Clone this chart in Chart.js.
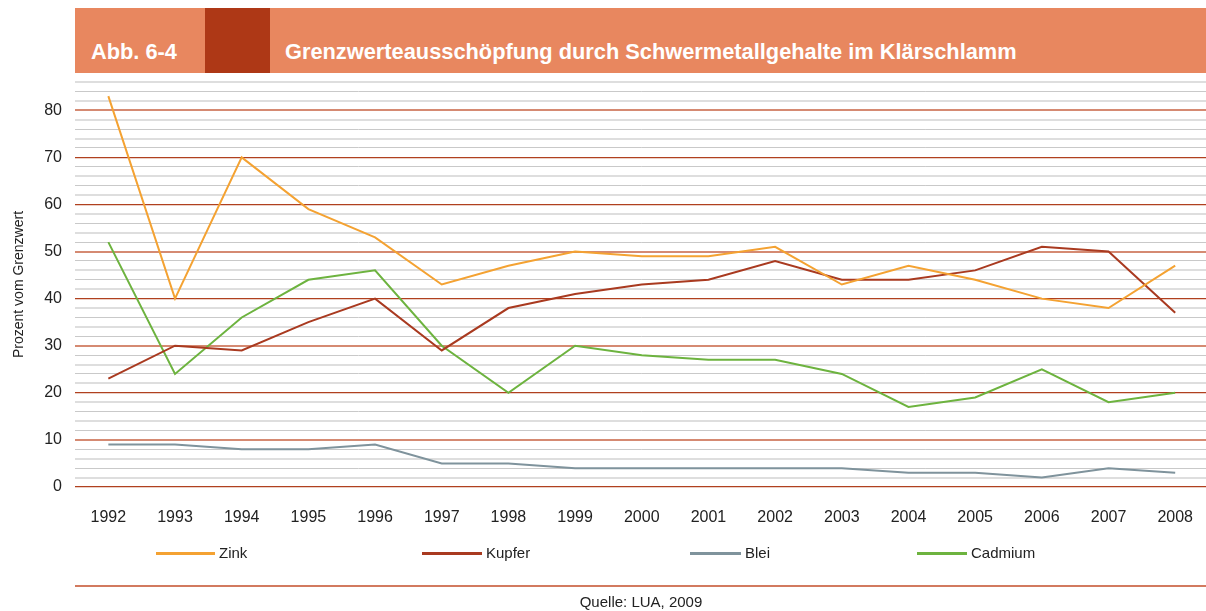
<!DOCTYPE html>
<html>
<head>
<meta charset="utf-8">
<script src="https://cdn.jsdelivr.net/npm/chart.js@4/dist/chart.umd.min.js"></script>
<style>
  body { margin: 0; background: #fff; font-family: "Liberation Sans", Arial, sans-serif; }
  #wrap { position: relative; width: 1206px; height: 611px; overflow: hidden; }
  #chart { position: absolute; left: 0; top: 0; }
  .hdr { position: absolute; top: 8px; height: 65px; }
  .hdrtxt { position: absolute; top: 39px; color: #fff; font-weight: bold; font-size: 21.8px; white-space: nowrap; }
  .leg { position: absolute; top: 543px; height: 20px; font-size: 15px; color: #222; white-space: nowrap; }
  .leg span.ln { position: absolute; top: 9px; height: 3px; }
  .leg span.tx { position: absolute; top: 1px; }
  #rule { position: absolute; left: 75px; width: 1131px; top: 585px; height: 2px; background: #d27a5f; }
  #src { position: absolute; left: 0; width: 1282px; text-align: center; top: 593px; font-size: 15px; color: #222; }
</style>
</head>
<body>
<div id="wrap">
  <div class="hdr" style="left:75px;width:1131px;background:#e8875f"></div>
  <div class="hdr" style="left:205px;width:65px;background:#ae3816"></div>
  <div class="hdrtxt" style="left:91px">Abb. 6-4</div>
  <div class="hdrtxt" style="left:285px">Grenzwerteausschöpfung durch Schwermetallgehalte im Klärschlamm</div>
  <canvas id="chart" width="1214" height="611"></canvas>
  <div id="legend"></div>
  <div id="rule"></div>
  <div id="src">Quelle: LUA, 2009</div>
</div>
<script>
const years = ['1992','1993','1994','1995','1996','1997','1998','1999','2000','2001','2002','2003','2004','2005','2006','2007','2008'];
const zink    = [83, 40, 70, 59, 53, 43, 47, 50, 49, 49, 51, 43, 47, 44, 40, 38, 47];
const kupfer  = [23, 30, 29, 35, 40, 29, 38, 41, 43, 44, 48, 44, 44, 46, 51, 50, 37];
const blei    = [9, 9, 8, 8, 9, 5, 5, 4, 4, 4, 4, 4, 3, 3, 2, 4, 3];
const cadmium = [52, 24, 36, 44, 46, 30, 20, 30, 28, 27, 27, 24, 17, 19, 25, 18, 20];
const seriesNames = ['Zink', 'Kupfer', 'Blei', 'Cadmium'];
const seriesColors = ['#f4a232', '#a93a20', '#7f939c', '#6db33f'];
const legendX = [156, 422, 690, 917];
const legendLen = [59, 60, 51, 50];

const values = [zink, kupfer, blei, cadmium];
const datasets = seriesNames.map((n, i) => ({
    label: n,
    data: values[i],
    borderColor: seriesColors[i],
    backgroundColor: seriesColors[i],
    borderWidth: 2,
    pointRadius: 0,
    tension: 0
}));

// legend built from the series lists
const legEl = document.getElementById('legend');
seriesNames.forEach((n, i) => {
    legEl.innerHTML += `<div class="leg" style="left:${legendX[i]}px">
        <span class="ln" style="left:0;width:${legendLen[i]}px;background:${seriesColors[i]}"></span>
        <span class="tx" style="left:${legendLen[i] + 4}px">${n}</span></div>`;
});

// major lines look crisp or soft depending on where they fall in the original scan
const softMajor = [10, 30, 50, 80];

function gridColor(c) {
    const v = c.tick.value;
    if (v % 10 === 0) return softMajor.includes(v) ? '#d58a72' : '#b0401f';
    return v % 4 === 0 ? '#c9c9c9' : '#dedede';
}
function gridWidth(c) {
    const v = c.tick.value;
    if (v % 10 === 0) return softMajor.includes(v) ? 2 : 1.2;
    return v % 4 === 0 ? 1 : 2;
}

new Chart(document.getElementById('chart').getContext('2d'), {
    type: 'line',
    data: { labels: years, datasets: datasets },
    options: {
        responsive: false,
        animation: false,
        layout: { padding: { top: 82, right: 0, bottom: 0, left: 0 } },
        plugins: { legend: { display: false }, tooltip: { enabled: false } },
        scales: {
            x: {
                offset: true,
                grid: { display: false, drawTicks: false },
                border: { display: false },
                ticks: { color: '#222', font: { family: 'Liberation Sans', size: 16 }, padding: 21, maxRotation: 0 },
                afterFit: s => { s.height = 124; }
            },
            y: {
                min: 0,
                max: 86,
                border: { display: false },
                grid: { drawTicks: false, color: gridColor, lineWidth: gridWidth },
                ticks: {
                    stepSize: 2,
                    autoSkip: false,
                    color: '#222',
                    padding: 13,
                    font: { family: 'Liberation Sans', size: 16 },
                    callback: v => v % 10 === 0 ? v : ''
                },
                title: {
                    display: true,
                    text: 'Prozent vom Grenzwert',
                    color: '#222',
                    font: { family: 'Liberation Sans', size: 14 },
                    padding: { top: 11, bottom: 0 }
                },
                afterFit: s => { s.width = 75; }
            }
        }
    }
});
</script>
</body>
</html>
